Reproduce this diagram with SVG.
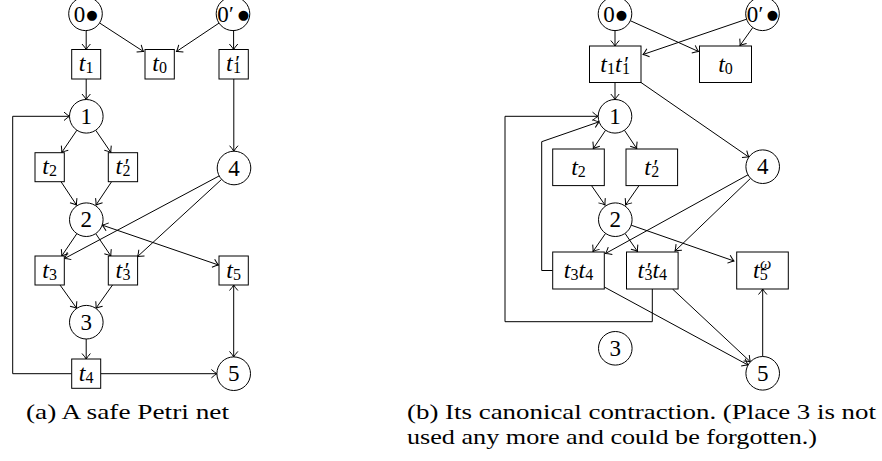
<svg xmlns="http://www.w3.org/2000/svg" width="882" height="461" viewBox="0 0 882 461">
<style>
.n{fill:#fff;stroke:#000;stroke-width:1}
.e{fill:none;stroke:#000;stroke-width:1;marker-end:url(#a)}
.d{marker-start:url(#a)}
text{font-family:"Liberation Serif","Times New Roman",serif;font-size:23px;fill:#000}
.m{text-anchor:middle}
.i{font-style:italic;font-size:24px}
.s{font-size:16px}
.p{font-size:22px}
.b{font-family:"DejaVu Sans",sans-serif;font-size:13px}
.cap{font-size:22px}
</style>
<defs>
<marker id="a" markerUnits="userSpaceOnUse" markerWidth="8" markerHeight="12" viewBox="-7 -6 8 12" refX="0" refY="0" orient="auto-start-reverse">
<path d="M-5.5,-4.2 Q-2,-1.1 0,0 Q-2,1.1 -5.5,4.2" fill="none" stroke="#000" stroke-width="1"/>
</marker>
</defs>

<g id="connectors">
<!-- left net -->
<path class="e" d="M86.2,30.6 L86.2,49.5"/>
<path class="e" d="M99.6,23 L143.5,51.5"/>
<path class="e" d="M219,23.1 L176.5,51.5"/>
<path class="e" d="M233.6,30.6 L233.6,49.5"/>
<path class="e" d="M86.2,79 L86.2,99.5"/>
<path class="e" d="M233.8,79 L233.8,151.2"/>
<path class="e" d="M76.9,130.2 L61.7,152.5"/>
<path class="e" d="M95.7,130.2 L110.9,152.5"/>
<path class="e" d="M61,181.7 L76.5,205"/>
<path class="e" d="M111.6,181.7 L96,205"/>
<path class="e" d="M76.9,233.6 L61.7,256"/>
<path class="e" d="M95.7,233.6 L110.9,256"/>
<path class="e" d="M219.2,175.9 L64.5,258.5"/>
<path class="e" d="M221.6,179.4 L137.6,256.5"/>
<path class="e d" d="M102.2,225.1 L218.5,265"/>
<path class="e" d="M60,285 L76.6,308.2"/>
<path class="e" d="M112.5,285 L96,308.2"/>
<path class="e" d="M86.2,339 L86.2,359"/>
<path class="e d" d="M233.7,285 L233.7,356.9"/>
<path class="e" d="M100.7,373.7 L216.9,373.7"/>
<path class="e" d="M71.7,373.7 L12.7,373.7 L12.7,116.3 L69.5,116.3"/>
<!-- right net -->
<path class="e" d="M615,30.6 L615,46"/>
<path class="e" d="M630.3,20.7 L698.5,51.5"/>
<path class="e" d="M746.6,19.2 L643,54.5"/>
<path class="e" d="M752.8,27.5 L740,45.5"/>
<path class="e" d="M615,82.5 L615,99.5"/>
<path class="e" d="M641,82.5 L748.9,157.1"/>
<path class="e" d="M605.6,130.2 L593.3,148.5"/>
<path class="e" d="M624.4,130.2 L636.7,148.5"/>
<path class="e" d="M591.5,185.6 L605,205"/>
<path class="e" d="M639,185.6 L625.5,205"/>
<path class="e" d="M605.5,233.5 L593,251.5"/>
<path class="e" d="M625.1,233.5 L637.5,251.5"/>
<path class="e" d="M631.2,225.2 L734,261"/>
<path class="e" d="M748,174.8 L605.5,253.5"/>
<path class="e" d="M750.6,178.3 L675,251"/>
<path class="e" d="M604.3,287 L748,365"/>
<path class="e" d="M672.5,289 L750.4,361.8"/>
<path class="e" d="M762.7,356.5 L762.7,289"/>
<path class="e" d="M652.3,289 L652.3,321.7 L505,321.7 L505,116.3 L598,116.3"/>
<path class="e" d="M552.7,270.5 L541.7,270.5 L541.7,141.7 L599.1,121.8"/>
</g>

<!-- left net nodes -->
<g id="L-p0"><circle class="n" cx="85.5" cy="13.8" r="16.8"/><text class="m" y="21.5"><tspan x="79.5">0</tspan><tspan class="b" x="92" y="18.8">●</tspan></text></g>
<g id="L-p0p"><circle class="n" cx="233" cy="13.8" r="16.8"/><text class="m" y="21.5"><tspan x="223">0</tspan><tspan class="p" x="231.5" y="20.5">′</tspan><tspan class="b" x="243.5" y="18.8">●</tspan></text></g>
<g id="L-t1"><rect class="n" x="71.7" y="49.5" width="29" height="29.5"/><text class="m" x="86.2" y="71.2"><tspan class="i">t</tspan><tspan class="s" dy="2">1</tspan></text></g>
<g id="L-t0"><rect class="n" x="145" y="49.5" width="29.3" height="29.5"/><text class="m" x="159.6" y="71.2"><tspan class="i">t</tspan><tspan class="s" dy="2">0</tspan></text></g>
<g id="L-t1p"><rect class="n" x="219" y="49.5" width="29.3" height="29.5"/><text y="71.2"><tspan class="i" x="226">t</tspan><tspan class="p" x="235.3" y="70.2">′</tspan><tspan class="s" x="233" y="73.2">1</tspan></text></g>
<g id="L-p1"><circle class="n" cx="86.3" cy="116.3" r="16.8"/><text class="m" x="86.3" y="124">1</text></g>
<g id="L-t2"><rect class="n" x="35" y="152.7" width="29.3" height="29"/><text class="m" x="49.6" y="174.2"><tspan class="i">t</tspan><tspan class="s" dy="2">2</tspan></text></g>
<g id="L-t2p"><rect class="n" x="108.3" y="152.7" width="29.3" height="29"/><text y="174.2"><tspan class="i" x="115.4">t</tspan><tspan class="p" x="124.7" y="173.2">′</tspan><tspan class="s" x="122.4" y="176.2">2</tspan></text></g>
<g id="L-p4"><circle class="n" cx="234" cy="168" r="16.8"/><text class="m" x="234" y="175.7">4</text></g>
<g id="L-p2"><circle class="n" cx="86.3" cy="219.7" r="16.8"/><text class="m" x="86.3" y="227.4">2</text></g>
<g id="L-t3"><rect class="n" x="35" y="256" width="29.3" height="29"/><text class="m" x="49.6" y="277.5"><tspan class="i">t</tspan><tspan class="s" dy="2">3</tspan></text></g>
<g id="L-t3p"><rect class="n" x="108.3" y="256" width="29.3" height="29"/><text y="277.5"><tspan class="i" x="115.4">t</tspan><tspan class="p" x="124.7" y="276.5">′</tspan><tspan class="s" x="122.4" y="279.5">3</tspan></text></g>
<g id="L-t5"><rect class="n" x="219" y="256" width="29.3" height="29"/><text class="m" x="233.6" y="277.5"><tspan class="i">t</tspan><tspan class="s" dy="2">5</tspan></text></g>
<g id="L-p3"><circle class="n" cx="86.3" cy="322.2" r="16.8"/><text class="m" x="86.3" y="329.9">3</text></g>
<g id="L-t4"><rect class="n" x="71.7" y="359" width="29" height="29.3"/><text class="m" x="86.2" y="380.6"><tspan class="i">t</tspan><tspan class="s" dy="2">4</tspan></text></g>
<g id="L-p5"><circle class="n" cx="233.7" cy="373.7" r="16.8"/><text class="m" x="233.7" y="381.4">5</text></g>

<!-- right net nodes -->
<g id="R-p0"><circle class="n" cx="615" cy="13.8" r="16.8"/><text class="m" y="21.5"><tspan x="609">0</tspan><tspan class="b" x="621.5" y="18.8">●</tspan></text></g>
<g id="R-p0p"><circle class="n" cx="762.5" cy="13.8" r="16.8"/><text class="m" y="21.5"><tspan x="752.5">0</tspan><tspan class="p" x="761" y="20.5">′</tspan><tspan class="b" x="772.5" y="18.8">●</tspan></text></g>
<g id="R-t1t1p"><rect class="n" x="589.5" y="46" width="51.5" height="36.5"/><text y="71.5"><tspan class="i" x="600.3">t</tspan><tspan class="s" x="607" y="73.5">1</tspan><tspan class="i" x="615" y="71.5">t</tspan><tspan class="p" x="624.3" y="70.5">′</tspan><tspan class="s" x="622" y="73.5">1</tspan></text></g>
<g id="R-t0"><rect class="n" x="699.5" y="46" width="52" height="36.5"/><text class="m" x="725.5" y="71.5"><tspan class="i">t</tspan><tspan class="s" dy="2">0</tspan></text></g>
<g id="R-p1"><circle class="n" cx="615" cy="116.3" r="16.8"/><text class="m" x="615" y="124">1</text></g>
<g id="R-t2"><rect class="n" x="552.7" y="149" width="51.6" height="36.6"/><text class="m" x="578.5" y="174.5"><tspan class="i">t</tspan><tspan class="s" dy="2">2</tspan></text></g>
<g id="R-t2p"><rect class="n" x="626" y="149" width="51.6" height="36.6"/><text y="174.5"><tspan class="i" x="644.2">t</tspan><tspan class="p" x="653.5" y="173.5">′</tspan><tspan class="s" x="651.2" y="176.5">2</tspan></text></g>
<g id="R-p4"><circle class="n" cx="762.7" cy="166.7" r="16.8"/><text class="m" x="762.7" y="174.4">4</text></g>
<g id="R-p2"><circle class="n" cx="615.3" cy="219.7" r="16.8"/><text class="m" x="615.3" y="227.4">2</text></g>
<g id="R-t3t4"><rect class="n" x="552.7" y="252" width="51.6" height="37"/><text class="m" x="578.5" y="277.8"><tspan class="i">t</tspan><tspan class="s" dy="2">3</tspan><tspan class="i" dy="-2">t</tspan><tspan class="s" dy="2">4</tspan></text></g>
<g id="R-t3pt4"><rect class="n" x="626.5" y="252" width="51.6" height="37"/><text y="277.8"><tspan class="i" x="637.4">t</tspan><tspan class="p" x="646.7" y="276.8">′</tspan><tspan class="s" x="644.4" y="279.8">3</tspan><tspan class="i" x="652.4" y="277.8">t</tspan><tspan class="s" x="659.1" y="279.8">4</tspan></text></g>
<g id="R-t5w"><rect class="n" x="736.7" y="252" width="51.6" height="37"/><text y="277.8"><tspan class="i" x="753">t</tspan><tspan class="s" style="font-style:italic" x="760" y="268.5">ω</tspan><tspan class="s" x="759.7" y="279.8">5</tspan></text></g>
<g id="R-p3"><circle class="n" cx="615.3" cy="348.3" r="16.8"/><text class="m" x="615.3" y="356">3</text></g>
<g id="R-p5"><circle class="n" cx="762.7" cy="373.3" r="16.8"/><text class="m" x="762.7" y="381">5</text></g>

<g id="captions">
<text class="cap" x="26" y="419" textLength="203" lengthAdjust="spacingAndGlyphs">(a) A safe Petri net</text>
<text class="cap" x="407" y="419" textLength="469" lengthAdjust="spacingAndGlyphs">(b) Its canonical contraction. (Place 3 is not</text>
<text class="cap" x="407" y="444" textLength="410" lengthAdjust="spacingAndGlyphs">used any more and could be forgotten.)</text>
</g>
</svg>
